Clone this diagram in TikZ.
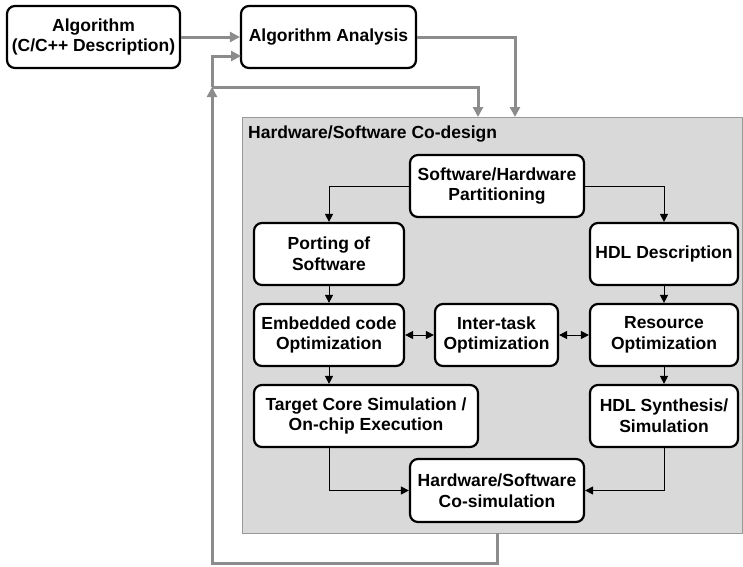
\documentclass[tikz,border=0pt]{standalone}
\usepackage{fontspec}
\setmainfont{Liberation Sans}
\usetikzlibrary{arrows.meta}
\definecolor{garrc}{HTML}{8C8C8C}
\definecolor{cdfill}{HTML}{D9D9D9}
\definecolor{cdborder}{HTML}{999999}
\begin{document}
\begin{tikzpicture}[x=1pt,y=-1pt,
  box/.style={draw=black, line width=2.2pt, rounded corners=8pt, fill=white, align=center,
    font=\bfseries\fontsize{17.5}{20.7}\selectfont, inner sep=0pt, minimum height=62pt},
  garr/.style={draw=garrc, line width=3pt, -{Triangle[length=10pt,width=10pt]}},
  barr/.style={draw=black, line width=1pt, -{Triangle[length=8pt,width=8pt]}},
  dbarr/.style={draw=black, line width=1pt, {Triangle[length=8pt,width=8pt]}-{Triangle[length=8pt,width=8pt]}},
  titlestyle/.style={font=\bfseries\fontsize{17.5}{20.7}\selectfont, inner sep=0pt, anchor=west}
]
\useasboundingbox (0,0) rectangle (743,566);

% co-design region
\node[draw=cdborder, fill=cdfill, line width=1pt, minimum width=500pt, minimum height=416pt, inner sep=0pt] (cd) at (492,325) {};
\node[titlestyle] (title) at (248,134) {Hardware/Software Co-design};

% top boxes
\node[box, minimum width=173pt] (alg) at (93.5,37) {Algorithm\\(C/C++ Description)};
\node[box, minimum width=175pt] (ana) at (328.5,37) {Algorithm Analysis};

% inner boxes
\node[box, minimum width=174pt] (part) at (497,186) {Software/Hardware\\Partitioning};
\node[box, minimum width=150pt] (port) at (329,254) {Porting of\\Software};
\node[box, minimum width=148pt] (hdl) at (664,254) {HDL Description};
\node[box, minimum width=150pt] (emb) at (329,335) {Embedded code\\Optimization};
\node[box, minimum width=123pt] (inter) at (496.5,335) {Inter-task\\Optimization};
\node[box, minimum width=148pt] (res) at (664,335) {Resource\\Optimization};
\node[box, minimum width=224pt] (tgt) at (366,416) {Target Core Simulation /\\On-chip Execution};
\node[box, minimum width=148pt] (syn) at (664,416) {HDL Synthesis/\\Simulation};
\node[box, minimum width=174pt, minimum height=63pt] (cos) at (497,490.5) {Hardware/Software\\Co-simulation};

% gray connectors
\coordinate (cdin1) at (515,117);
\coordinate (cdin2) at (478,117);
\coordinate (anain2) at (241,56);
\coordinate (fbout) at (497,533);
\coordinate (fbbr) at (497,563);
\coordinate (fbbl) at (212,563);
\coordinate (fbj) at (212,87);
\draw[garr] (alg.east) -- (ana.west);
\draw[garr] (ana.east) -| (cdin1);
\draw[garr] (fbout) -- (fbbr) -- (fbbl) -- (fbj);
\draw[garr] (fbj) |- (anain2);
\draw[garr] (fbj) -| (cdin2);

% black connectors
\draw[barr] (part.west) -| (port.north);
\draw[barr] (part.east) -| (hdl.north);
\draw[barr] (port.south) -- (emb.north);
\draw[barr] (hdl.south) -- (res.north);
\draw[barr] (emb.south) -- (emb.south |- tgt.north);
\draw[barr] (res.south) -- (syn.north);
\draw[dbarr] (emb.east) -- (inter.west);
\draw[dbarr] (inter.east) -- (res.west);
\draw[barr] (emb.south |- tgt.south) |- (cos.west);
\draw[barr] (syn.south) |- (cos.east);
\end{tikzpicture}
\end{document}
